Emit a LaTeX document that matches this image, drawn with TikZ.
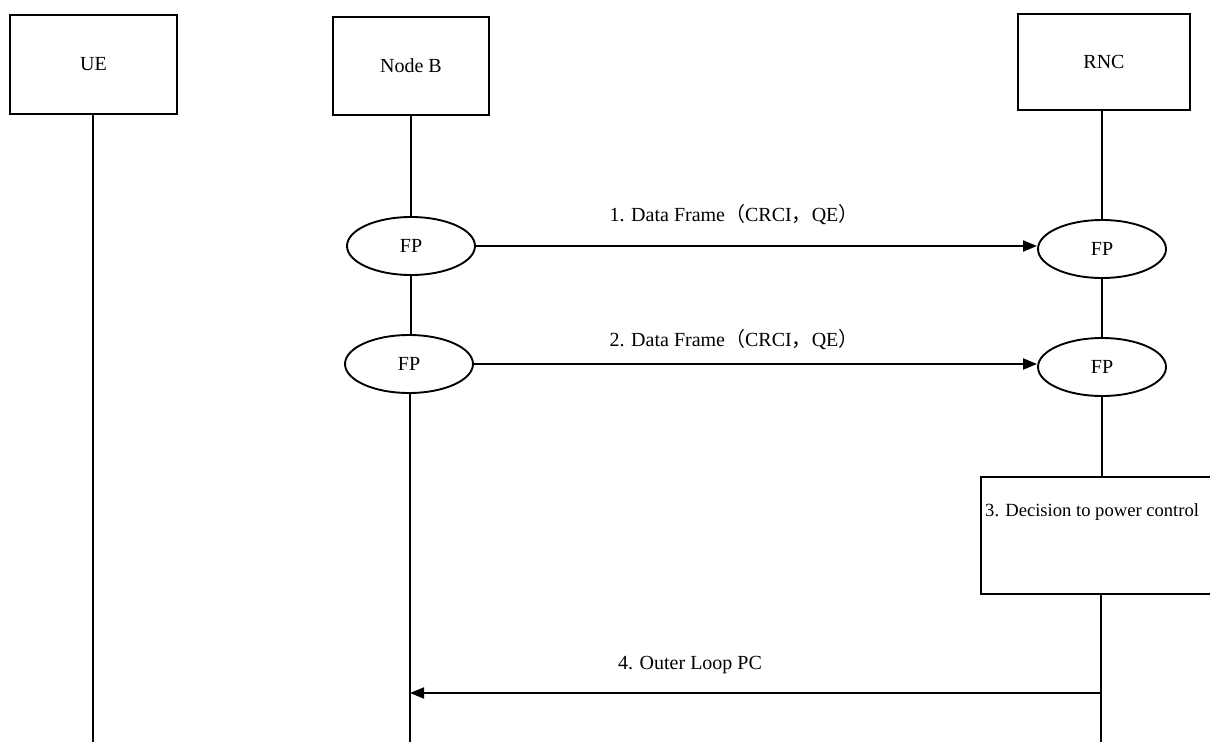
\documentclass[tikz,border=0pt]{standalone}
\usepackage{fontspec}
\setmainfont{Liberation Serif}
\newfontfamily\cjk{Noto Sans CJK SC}
\usetikzlibrary{shapes.geometric,arrows.meta}
\begin{document}
\begin{tikzpicture}[x=1pt,y=-1pt,
  every node/.style={font=\fontsize{20}{23}\selectfont},
  entity/.style={draw,line width=1.9pt,rectangle,inner sep=0pt},
  fp/.style={draw,line width=1.9pt,ellipse,minimum width=128pt,minimum height=58pt,inner sep=0pt},
  life/.style={line width=1.9pt},
  msg/.style={line width=1.9pt,-{Triangle[length=14pt,width=11pt]}},
  lbl/.style={inner sep=0pt}]
\clip (0,0) rectangle (1210,742);
% entities
\node[entity,minimum width=167pt,minimum height=99pt] (ue) at (93.5,64.5) {UE};
\node[entity,minimum width=156pt,minimum height=98pt] (nb) at (411,66) {Node B};
\node[entity,minimum width=172pt,minimum height=96pt] (rnc) at (1104,62) {RNC};
% FP ellipses
\node[fp] (fpb1) at (411,246) {FP};
\node[fp] (fpr1) at (1102,249) {FP};
\node[fp] (fpb2) at (409,364) {FP};
\node[fp] (fpr2) at (1102,367) {FP};
% decision box
\node[entity,anchor=north west,minimum width=260pt,minimum height=117pt] (dec) at (980,476) {};
\node[lbl,anchor=west,font=\fontsize{18.6}{22}\selectfont] (dect) at (985,512) {3. Decision to power control};
% end coordinates
\coordinate (ueend) at (93,742);
\coordinate (nbend) at (410,742);
\coordinate (rncend) at (1101,742);
% lifelines
\draw[life] (ue.south -| ueend) -- (ueend);
\draw[life] (nb.south -| fpb1) -- (fpb1.north);
\draw[life] (fpb1.south) -- (fpb1.south |- fpb2.north);
\draw[life] (fpb2.south -| nbend) -- (nbend);
\draw[life] (rnc.south -| fpr1) -- (fpr1.north);
\draw[life] (fpr1.south) -- (fpr2.north);
\draw[life] (fpr2.south) -- (fpr2.south |- dec.north);
\draw[life] (dec.south -| rncend) -- (rncend);
% messages
\draw[msg] (fpb1.east) -- (fpr1.west |- fpb1.east);
\node[lbl] (l1) at (734,215) {1. Data Frame{\cjk （}CRCI{\cjk ，}QE{\cjk ）}};
\draw[msg] (fpb2.east) -- (fpr2.west |- fpb2.east);
\node[lbl] (l2) at (734,340) {2. Data Frame{\cjk （}CRCI{\cjk ，}QE{\cjk ）}};
\coordinate (m4s) at (1101,693);
\coordinate (m4e) at (410,693);
\draw[msg] (m4s) -- (m4e);
\node[lbl] (l4) at (690,665) {4. Outer Loop PC};
\end{tikzpicture}
\end{document}
